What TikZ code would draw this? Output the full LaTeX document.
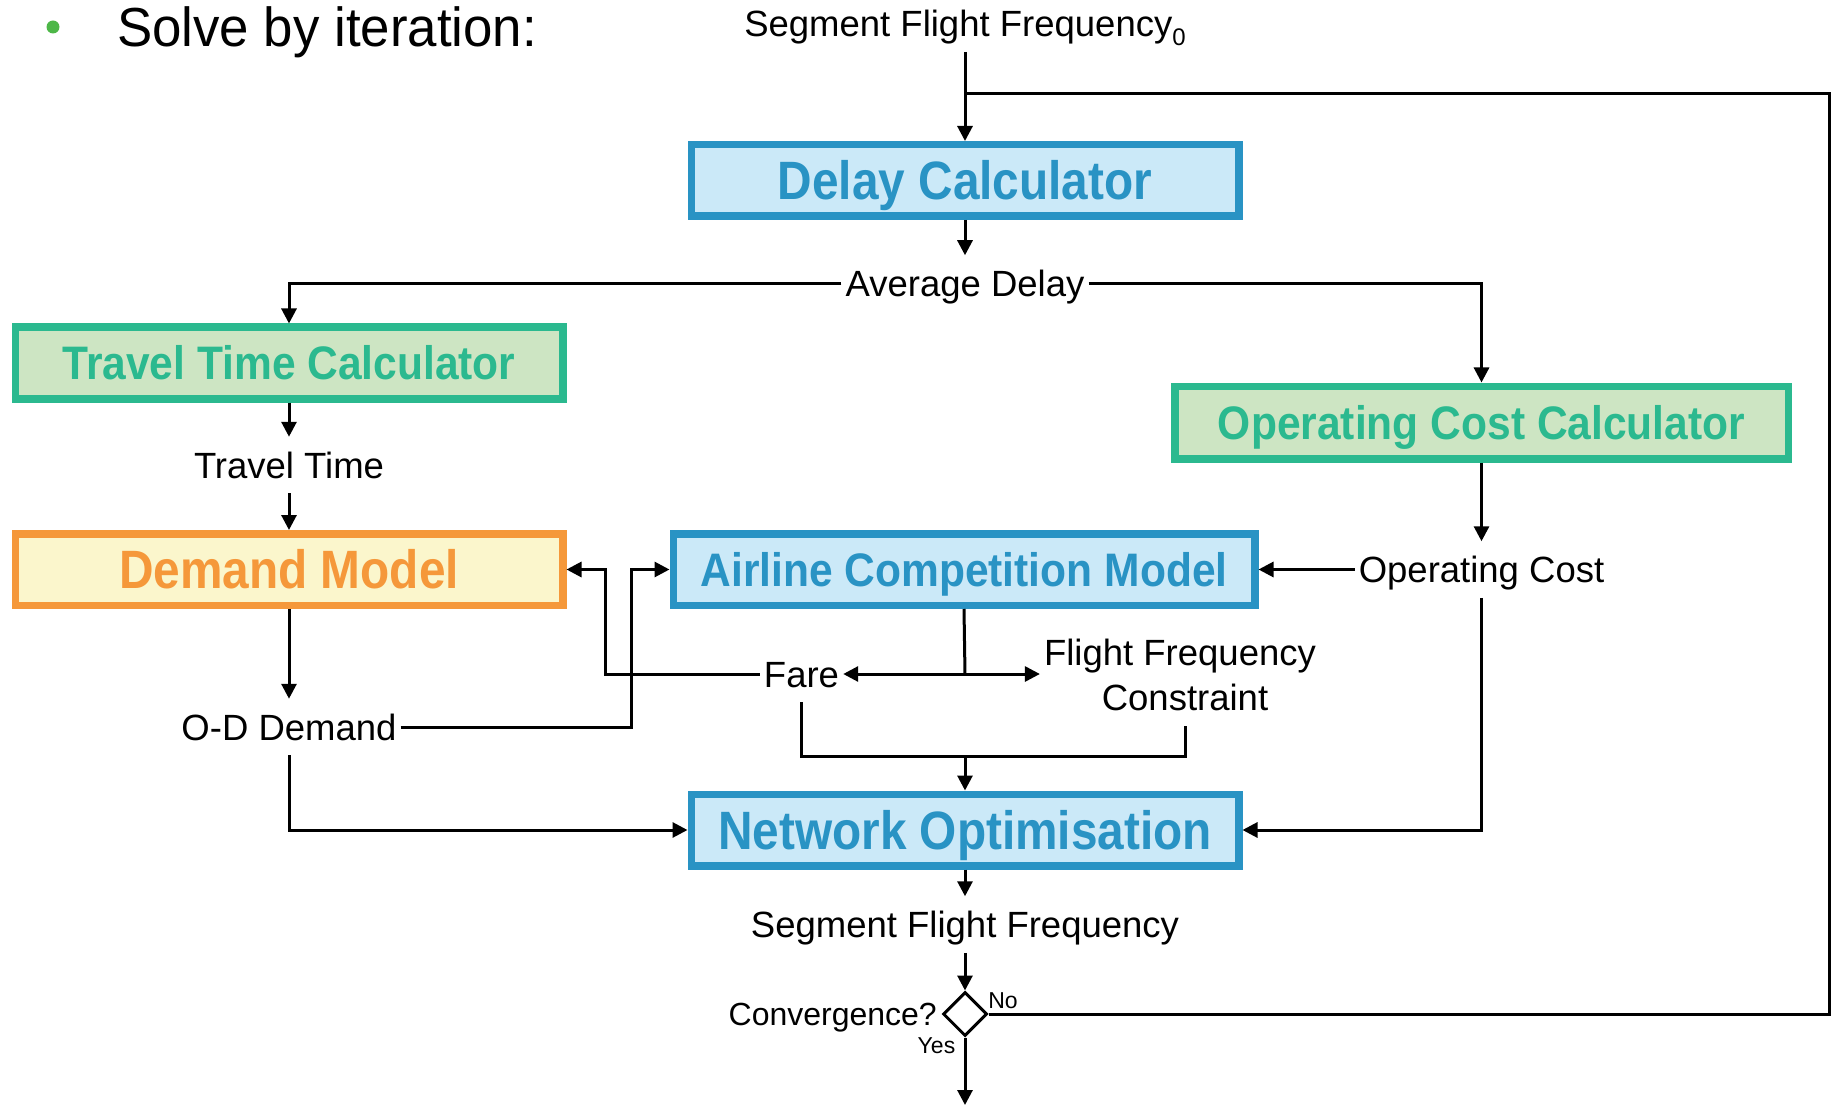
\documentclass[tikz,border=0pt]{standalone}
\usepackage{fontspec}
\setmainfont{Liberation Sans}
\usetikzlibrary{arrows.meta,shapes.geometric}
\definecolor{blueB}{RGB}{41,147,196}
\definecolor{blueF}{RGB}{203,233,248}
\definecolor{greenB}{RGB}{43,185,143}
\definecolor{greenF}{RGB}{205,229,195}
\definecolor{orangeB}{RGB}{245,152,58}
\definecolor{orangeF}{RGB}{251,246,204}
\definecolor{bulletG}{RGB}{77,183,72}
\begin{document}
\begin{tikzpicture}[x=1pt,y=-1pt,
  box/.style={draw, line width=7.5pt, inner sep=0pt, minimum height=71.5pt, minimum width=547.5pt},
  bluebox/.style={box, draw=blueB, fill=blueF, text=blueB},
  greenbox/.style={box, draw=greenB, fill=greenF, text=greenB},
  orangebox/.style={box, draw=orangeB, fill=orangeF, text=orangeB},
  bigt/.style={font=\fontsize{54pt}{60pt}\selectfont\bfseries, text height=38.7pt, text depth=0pt},
  medt/.style={font=\fontsize{47pt}{52pt}\selectfont\bfseries, text height=33.7pt, text depth=0pt},
  lbl/.style={font=\fontsize{36.5pt}{42pt}\selectfont, text height=26.1pt, text depth=0pt, inner xsep=4pt, inner ysep=15pt},
  smalllbl/.style={font=\fontsize{23pt}{26pt}\selectfont, inner sep=0pt},
  ln/.style={line width=3pt},
  arr/.style={ln, -{Triangle[length=15pt,width=15pt]}}
]
\useasboundingbox (0,0) rectangle (1832,1107);

% title
\fill[bulletG] (53,27) circle (6.5);
\node[anchor=base west, inner sep=0pt, font=\fontsize{55pt}{60pt}\selectfont] (title) at (117,47) {\scalebox{0.96}[1]{Solve by iteration:}};

% boxes
\node[bluebox, bigt] (dc) at (965,180.5) {\scalebox{0.885}[1]{Delay Calculator}};
\node[greenbox, medt] (ttc) at (289,363) {\scalebox{0.905}[1]{Travel Time Calculator}};
\node[orangebox, bigt] (dm) at (289,569.5) {\scalebox{0.885}[1]{Demand Model}};
\node[bluebox, medt, minimum width=581.5pt] (acm) at (964,569.5) {\scalebox{0.905}[1]{Airline Competition Model}};
\node[greenbox, medt, minimum width=613.5pt, minimum height=72.5pt] (occ) at (1481.5,422.5) {\scalebox{0.905}[1]{Operating Cost Calculator}};
\node[bluebox, bigt] (no) at (965,830) {\scalebox{0.885}[1]{Network Optimisation}};

% labels
\node[lbl] (top) at (965,23.75) {Segment Flight Frequency\raisebox{-9pt}{\fontsize{24pt}{26pt}\selectfont 0}};
\node[lbl] (avg) at (965,283.5) {Average Delay};
\node[lbl] (tt) at (289,465) {Travel Time};
\node[lbl] (od) at (289,727) {O-D Demand};
\node[lbl] (fare) at (801.5,674) {Fare};
\node[lbl] (ffc1) at (1180,652) {Flight Frequency};
\node[lbl] (ffc2) at (1185,697.5) {Constraint};
\node[lbl] (oc) at (1481.5,569.5) {Operating Cost};
\node[lbl] (sff) at (965,924.5) {Segment Flight Frequency};
\node[draw, diamond, line width=3pt, inner sep=0pt, minimum width=44pt, minimum height=44pt] (dia) at (965,1014) {};
\node[lbl, font=\fontsize{32pt}{36pt}\selectfont, text height=22.9pt, anchor=east, inner xsep=2pt] (conv) at (939,1014) {Convergence?};
\node[smalllbl] (nol) at (1003,1001) {No};
\node[smalllbl] (yesl) at (936.5,1046) {Yes};

% helper coordinates
\coordinate (lr) at (1829,93.5);
\coordinate (j1) at (631,569.5);
\coordinate (j2) at (605,569.5);
\coordinate (j3) at (965,674);
\coordinate (j4) at (965,756);
\coordinate (endc) at (965,1105);

% connectors
\draw[arr] (top.south) -- (dc.north);
\draw[ln] (dia.east) -| (lr) -- (lr -| dc.north);
\draw[arr] (dc.south) -- (avg.north);
\draw[arr] (avg.west) -| (ttc.north);
\draw[arr] (avg.east) -| (occ.north);
\draw[arr] (ttc.south) -- (tt.north);
\draw[arr] (tt.south) -- (dm.north);
\draw[arr] (dm.south) -- (od.north);
\draw[arr] (od.east) -| (j1) -- (acm.west);
\draw[arr] (fare.west) -| (j2) -- (dm.east);
\draw[ln] (acm.south) -- (j3);
\draw[arr] (j3) -- (fare.east);
\draw[arr] (j3) -- (j3 -| ffc1.west);
\draw[ln] (fare.south) |- (ffc2.south |- j4) -- (ffc2.south);
\draw[arr] (j4) -- (no.north);
\draw[arr] (occ.south) -- (oc.north);
\draw[arr] (oc.west) -- (acm.east);
\draw[arr] (oc.south) |- (no.east);
\draw[arr] (od.south) |- (no.west);
\draw[arr] (no.south) -- (sff.north);
\draw[arr] (sff.south) -- (dia.north);
\draw[arr] (dia.south) -- (endc);
\end{tikzpicture}
\end{document}
